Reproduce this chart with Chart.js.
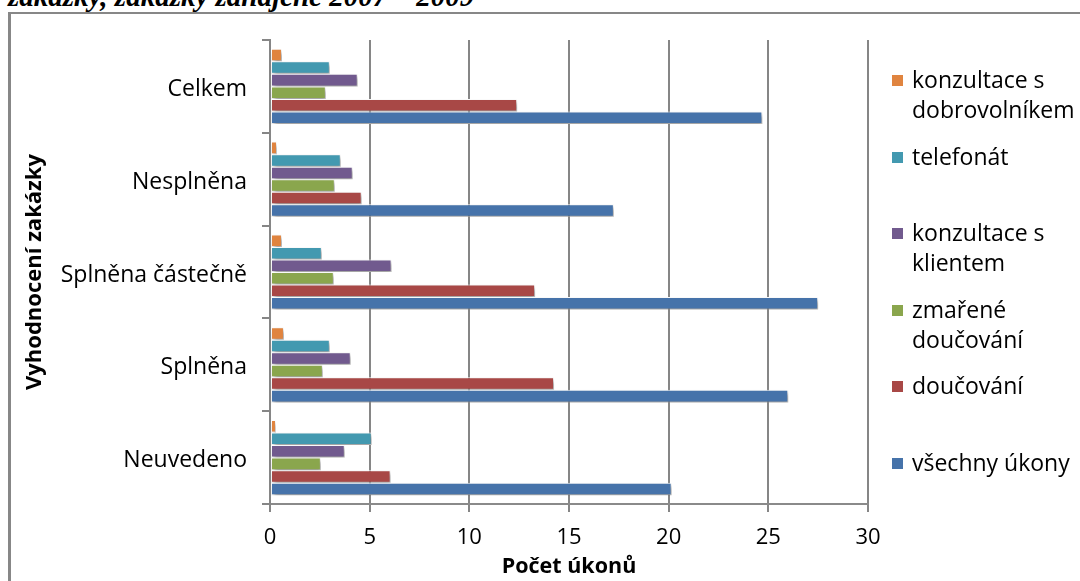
<!DOCTYPE html>
<html>
<head>
<meta charset="utf-8">
<script src="https://cdn.jsdelivr.net/npm/chart.js@4/dist/chart.umd.min.js"></script>
<style>
  html, body { margin: 0; padding: 0; background: #fff; width: 1080px; height: 581px; overflow: hidden; }
  #heading { position: absolute; left: 8px; top: -20px; font: italic bold 29px "Liberation Serif", serif; color: #000; white-space: nowrap; }
  #frame { position: absolute; left: 8px; top: 12px; width: 1100px; height: 620px; border-left: 3px solid #878787; border-top: 2px solid #878787; }
  #wrap { position: absolute; left: 0; top: 0; width: 1080px; height: 581px; }
  #legend { position: absolute; left: 892px; top: 0; width: 188px; font: 23px "Open Sans", sans-serif; color: #000; }
  .item { position: absolute; left: 0; display: flex; align-items: flex-start; line-height: 30px; }
  .box { width: 11px; height: 11px; margin-top: 11px; margin-right: 9px; flex: none; }
  .txt { width: 168px; }
</style>
</head>
<body>
<div id="heading">zakázky, zakázky zahájené 2007 – 2009</div>
<div id="frame"></div>
<div id="wrap"><canvas id="c" width="1080" height="581"></canvas></div>
<div id="legend"></div>
<script>
// categories, top to bottom
const categories = ['Celkem', 'Nesplněna', 'Splněna částečně', 'Splněna', 'Neuvedeno'];

// series names and colours
const seriesNames = ['konzultace s dobrovolníkem', 'telefonát', 'konzultace s klientem', 'zmařené doučování', 'doučování', 'všechny úkony'];
const seriesColors = ['#E0843F', '#4399B0', '#715A8E', '#8AA64D', '#A84846', '#4673AA'];

// values per series, in category order
const konzultaceDobrovolnik = [0.6, 0.35, 0.6, 0.7, 0.3];
const telefonat            = [3.0, 3.55, 2.6, 3.0, 5.1];
const konzultaceKlient     = [4.4, 4.15, 6.1, 4.05, 3.75];
const zmareneDoucovani     = [2.8, 3.25, 3.2, 2.65, 2.55];
const doucovani            = [12.4, 4.6, 13.3, 14.25, 6.05];
const vsechnyUkony         = [24.7, 17.25, 27.5, 26.0, 20.15];

const seriesValues = [konzultaceDobrovolnik, telefonat, konzultaceKlient, zmareneDoucovani, doucovani, vsechnyUkony];

// x axis ticks
const xMin = 0, xMax = 30, xStep = 5;

const FONT = '"Open Sans", sans-serif';
Chart.defaults.font.family = FONT;
Chart.defaults.color = '#000';

// soft drop shadow under the bars
const barShadow = {
  id: 'barShadow',
  beforeDatasetsDraw(chart) {
    const ctx = chart.ctx;
    ctx.save();
    ctx.shadowColor = 'rgba(0,0,0,0.4)';
    ctx.shadowBlur = 4;
    ctx.shadowOffsetX = 2;
    ctx.shadowOffsetY = 3;
  },
  afterDatasetsDraw(chart) {
    chart.ctx.restore();
  }
};

new Chart(document.getElementById('c'), {
  type: 'bar',
  data: {
    labels: categories,
    datasets: seriesNames.map((name, i) => ({
      label: name,
      data: seriesValues[i],
      backgroundColor: seriesColors[i],
      borderColor: '#ffffff',
      borderWidth: 1,
      borderSkipped: false,
      barPercentage: 1.0,
      categoryPercentage: 0.81
    }))
  },
  options: {
    indexAxis: 'y',
    responsive: false,
    animation: false,
    devicePixelRatio: 1,
    layout: { padding: { left: 0, right: 212, top: 40, bottom: 0 } },
    plugins: {
      legend: { display: false },
      tooltip: { enabled: false }
    },
    scales: {
      x: {
        min: xMin, max: xMax,
        ticks: { stepSize: xStep, padding: 13, font: { size: 22 }, color: '#000' },
        grid: { color: '#868686', lineWidth: 2, tickLength: 8, drawTicks: true },
        border: { color: '#8a8a8a', width: 2 },
        title: { display: true, text: 'Počet úkonů', font: { size: 21.5, weight: 'bold' }, color: '#000', padding: { top: 0, bottom: 1 } },
        afterFit(scale) { scale.height = 77; }
      },
      y: {
        ticks: { padding: 15, labelOffset: 3, font: { size: 23 }, color: '#000' },
        grid: { color: '#868686', lineWidth: 2, drawOnChartArea: false, tickLength: 8, offset: true },
        border: { color: '#868686', width: 2 },
        title: { display: true, text: 'Vyhodnocení zakázky', font: { size: 22, weight: 'bold' }, color: '#000', padding: { top: 22, bottom: 0 } },
        afterFit(scale) { scale.width = 270; }
      }
    }
  },
  plugins: [barShadow]
});

// legend, one slot per series
const legend = document.getElementById('legend');
seriesNames.forEach((name, i) => {
  const item = document.createElement('div');
  item.className = 'item';
  item.style.top = (64 + i * 76.6) + 'px';
  const box = document.createElement('div');
  box.className = 'box';
  box.style.background = seriesColors[i];
  const txt = document.createElement('div');
  txt.className = 'txt';
  txt.textContent = name;
  item.appendChild(box);
  item.appendChild(txt);
  legend.appendChild(item);
});
</script>
</body>
</html>
